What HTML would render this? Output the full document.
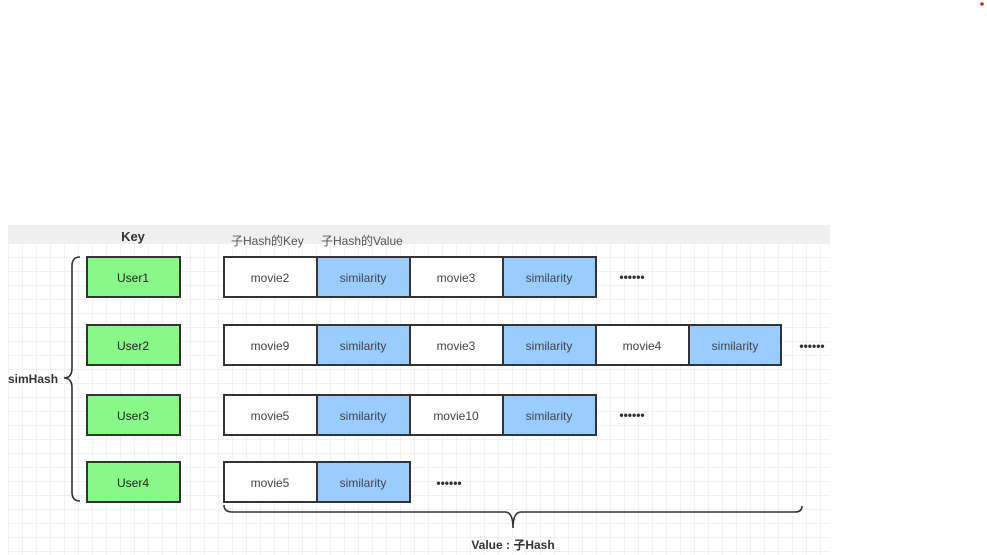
<!DOCTYPE html><html><head><meta charset="utf-8"><style>body{margin:0;background:#fff}svg{display:block}</style></head><body>
<svg width="987" height="555" xmlns="http://www.w3.org/2000/svg" font-family="Liberation Sans, Noto Sans CJK SC, sans-serif">
<defs><pattern id="g" width="14" height="14" patternUnits="userSpaceOnUse" x="8" y="243"><path d="M14 0H0V14" fill="none" stroke="#e6e6e6" stroke-width="1"/></pattern></defs>
<circle cx="982" cy="4" r="1.8" fill="#e02020"/>
<rect x="8" y="225" width="822" height="330" fill="#fff"/>
<rect x="8" y="225" width="822" height="330" fill="url(#g)"/>
<rect x="8" y="225" width="822" height="18" fill="#efefef"/>
<text x="133" y="241" font-size="13" font-weight="bold" text-anchor="middle" fill="#333">Key</text>
<text x="231" y="245" font-size="12" fill="#555">子Hash的Key</text>
<text x="321" y="245" font-size="12" fill="#555">子Hash的Value</text>
<g stroke="#333" stroke-width="2" font-size="12" text-anchor="middle">
<g fill="#88f888">
<rect x="87" y="257" width="93" height="40"/><rect x="87" y="325" width="93" height="40"/><rect x="87" y="395" width="93" height="40"/><rect x="87" y="462" width="93" height="40"/></g>
<g stroke="none" fill="#222"><text x="133" y="282">User1</text><text x="133" y="350">User2</text><text x="133" y="420">User3</text><text x="133" y="487">User4</text></g>
<g id="c">
<rect x="224" y="257" width="93" height="40" fill="#fff"/><rect x="317" y="257" width="93" height="40" fill="#99ccff"/>
<rect x="410" y="257" width="93" height="40" fill="#fff"/><rect x="503" y="257" width="93" height="40" fill="#99ccff"/>
<rect x="224" y="325" width="93" height="40" fill="#fff"/><rect x="317" y="325" width="93" height="40" fill="#99ccff"/>
<rect x="410" y="325" width="93" height="40" fill="#fff"/><rect x="503" y="325" width="93" height="40" fill="#99ccff"/>
<rect x="596" y="325" width="93" height="40" fill="#fff"/><rect x="689" y="325" width="92" height="40" fill="#99ccff"/>
<rect x="224" y="395" width="93" height="40" fill="#fff"/><rect x="317" y="395" width="93" height="40" fill="#99ccff"/>
<rect x="410" y="395" width="93" height="40" fill="#fff"/><rect x="503" y="395" width="93" height="40" fill="#99ccff"/>
<rect x="224" y="462" width="93" height="40" fill="#fff"/><rect x="317" y="462" width="93" height="40" fill="#99ccff"/>
</g>
<g stroke="none" fill="#444">
<text x="270" y="282">movie2</text><text x="363" y="282">similarity</text><text x="456" y="282">movie3</text><text x="549" y="282">similarity</text>
<text x="270" y="350">movie9</text><text x="363" y="350">similarity</text><text x="456" y="350">movie3</text><text x="549" y="350">similarity</text><text x="642" y="350">movie4</text><text x="735" y="350">similarity</text>
<text x="270" y="420">movie5</text><text x="363" y="420">similarity</text><text x="456" y="420">movie10</text><text x="549" y="420">similarity</text>
<text x="270" y="487">movie5</text><text x="363" y="487">similarity</text>
<g font-weight="bold" font-size="12" fill="#333"><text x="632" y="281">••••••</text><text x="812" y="350">••••••</text><text x="632" y="419">••••••</text><text x="449" y="487">••••••</text></g>
</g>
</g>
<g fill="none" stroke="#333" stroke-width="1.6">
<path d="M80 257 Q72 257 72 266 V368 Q72 378 64 378 Q72 378 72 388 V492 Q72 501 80 501"/>
<path d="M224 505 Q224 512 232 512 H505 Q513 512 513 528 Q513 512 521 512 H795 Q802 512 802 506"/>
</g>
<text x="8" y="383" font-size="12" font-weight="bold" fill="#333">simHash</text>
<text x="513" y="549" font-size="12" font-weight="bold" text-anchor="middle" fill="#333">Value : 子Hash</text>
</svg></body></html>
